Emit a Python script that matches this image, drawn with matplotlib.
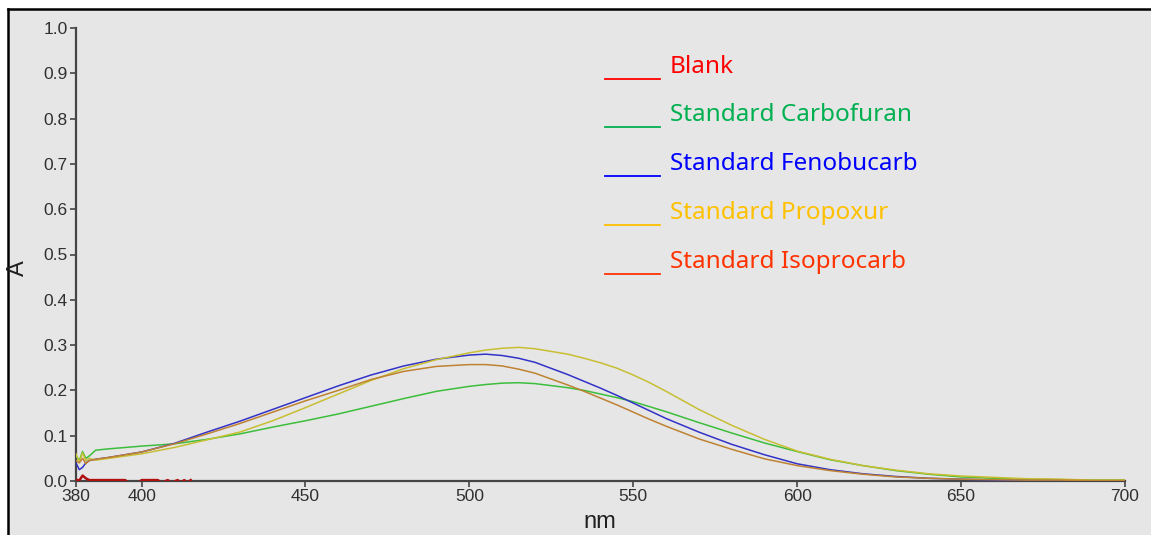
import matplotlib
matplotlib.use("Agg")
import matplotlib.pyplot as plt
from matplotlib.patches import Rectangle
from matplotlib.lines import Line2D
import numpy as np

# wavelengths (nm) and absorbance
wl_std = [380, 381, 382, 383, 384, 386, 390, 400, 410, 420, 430, 440, 450, 460,
          470, 480, 490, 500, 505, 510, 515, 520, 530, 535, 540, 545, 550, 555,
          560, 565, 570, 580, 590, 600, 610, 620, 630, 640, 650, 660, 670, 680,
          690, 700]

carbofuran = [0.055, 0.045, 0.065, 0.050, 0.055, 0.068, 0.071, 0.077, 0.082, 0.092,
              0.104, 0.119, 0.133, 0.148, 0.165, 0.182, 0.198, 0.209, 0.213, 0.216,
              0.217, 0.215, 0.206, 0.200, 0.192, 0.184, 0.175, 0.164, 0.153, 0.141,
              0.129, 0.106, 0.084, 0.065, 0.047, 0.034, 0.023, 0.015, 0.009, 0.006,
              0.004, 0.003, 0.002, 0.002]

fenobucarb = [0.040, 0.025, 0.030, 0.040, 0.045, 0.048, 0.052, 0.064, 0.083, 0.108,
              0.132, 0.158, 0.184, 0.210, 0.234, 0.254, 0.269, 0.278, 0.280, 0.277,
              0.271, 0.262, 0.235, 0.220, 0.205, 0.189, 0.172, 0.155, 0.138, 0.123,
              0.108, 0.081, 0.058, 0.038, 0.025, 0.016, 0.010, 0.006, 0.004, 0.002,
              0.001, 0.001, 0.000, 0.000]

propoxur = [0.060, 0.042, 0.062, 0.045, 0.050, 0.046, 0.050, 0.060, 0.074, 0.091,
            0.108, 0.133, 0.162, 0.192, 0.222, 0.248, 0.268, 0.283, 0.289, 0.293,
            0.295, 0.292, 0.280, 0.271, 0.261, 0.249, 0.234, 0.217, 0.198, 0.178,
            0.158, 0.123, 0.092, 0.066, 0.048, 0.034, 0.024, 0.016, 0.011, 0.008,
            0.005, 0.004, 0.002, 0.002]

isoprocarb = [0.045, 0.040, 0.050, 0.038, 0.045, 0.048, 0.052, 0.064, 0.082, 0.104,
              0.127, 0.152, 0.177, 0.200, 0.224, 0.242, 0.253, 0.257, 0.257, 0.254,
              0.247, 0.238, 0.212, 0.198, 0.183, 0.168, 0.152, 0.136, 0.121, 0.107,
              0.093, 0.070, 0.049, 0.034, 0.023, 0.015, 0.009, 0.006, 0.004, 0.003,
              0.002, 0.002, 0.001, 0.001]

# blank only recorded over the short start of the scan; values hover around zero
wl_blank = [380, 381, 382, 383, 384, 385, 390, 395, 396, 399, 400, 405, 406, 408,
            409, 411, 412, 413, 414, 415]
blank = [0.003, 0.001, 0.012, 0.006, 0.002, 0.002, 0.002, 0.002, -0.004, -0.004,
         0.002, 0.002, -0.004, 0.002, -0.004, 0.002, -0.004, 0.002, -0.004, 0.002]

legend_names = ["Blank", "Standard Carbofuran", "Standard Fenobucarb",
                "Standard Propoxur", "Standard Isoprocarb"]
legend_colors = ["#ff0000", "#00b050", "#0000ff", "#ffc000", "#ff3300"]
line_colors = ["#b01010", "#3cbe3c", "#3232c8", "#c8be32", "#be8232"]

W, H = 1151, 535
fig = plt.figure(figsize=(W / 100, H / 100), dpi=100)
fig.patch.set_facecolor("white")

# grey panel with black left/top frame (kept behind the axes)
grey = "#e6e6e6"
fig.patches.append(Rectangle((8 / W, 0), 1 - 8 / W, 1 - 9 / H, transform=fig.transFigure,
                             facecolor=grey, edgecolor="none", zorder=-5))
fig.lines.append(Line2D([8 / W, 8 / W], [0, 1 - 9 / H], transform=fig.transFigure,
                        color="black", lw=1.8, zorder=-4))
fig.lines.append(Line2D([8 / W, 1], [1 - 9 / H, 1 - 9 / H], transform=fig.transFigure,
                        color="black", lw=1.8, zorder=-4))

ax = fig.add_axes([76 / W, 1 - 481 / H, (1125 - 76) / W, (481 - 28) / H])
ax.set_facecolor(grey)

ax.plot(wl_blank, blank, color=line_colors[0], lw=1.8, zorder=3)
series = [carbofuran, fenobucarb, propoxur, isoprocarb]
for vals, col in zip(series, line_colors[1:]):
    ax.plot(wl_std, vals, color=col, lw=1.1, zorder=3)

ax.set_xlim(380, 700)
ax.set_ylim(0, 1.0)
ax.set_xticks([380, 400, 450, 500, 550, 600, 650, 700])
ax.set_yticks(np.arange(0, 1.01, 0.1))
ax.set_yticklabels([f"{v:.1f}" for v in np.arange(0, 1.01, 0.1)])

for s in ["top", "right"]:
    ax.spines[s].set_visible(False)
for s in ["left", "bottom"]:
    ax.spines[s].set_color("#454545")
    ax.spines[s].set_linewidth(1.6)

tick_font = ["Liberation Sans Narrow", "Liberation Sans", "DejaVu Sans"]
ax.tick_params(direction="out", length=4, width=1.2, color="#454545",
               labelcolor="#303030", labelsize=12.5, pad=2)
for lab in ax.get_xticklabels() + ax.get_yticklabels():
    lab.set_family(tick_font)

fig.text(18 / W, 1 - 268 / H, "A", rotation=90, ha="center", va="center",
         fontsize=17, color="#202020", family=tick_font)
fig.text(600 / W, 1 - 522 / H, "nm", ha="center", va="center",
         fontsize=17, color="#202020", family=tick_font)

# hand-placed legend like the original
row_y = [67, 115, 164, 213, 262]
for name, col, y in zip(legend_names, legend_colors, row_y):
    fig.lines.append(Line2D([605 / W, 660 / W], [1 - (y + 12) / H] * 2,
                            transform=fig.transFigure, color=col, lw=1.3))
    fig.text(670 / W, 1 - y / H, name, ha="left", va="center", fontsize=17.5,
             color=col, family=["Noto Sans", "DejaVu Sans"])

fig.savefig("out.png", dpi=100, facecolor="white")
